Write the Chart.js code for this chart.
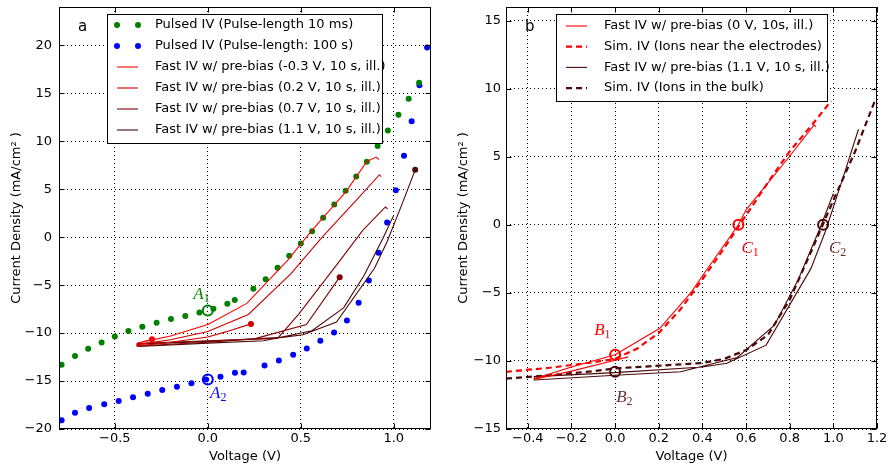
<!DOCTYPE html>
<html>
<head>
<meta charset="utf-8">
<script src="https://cdn.jsdelivr.net/npm/chart.js@4.4.1/dist/chart.umd.min.js"></script>
<style>
  html, body { margin: 0; padding: 0; background: #fff; }
  #wrap { position: relative; width: 889px; height: 466px; }
  canvas { position: absolute; top: 0; }
  #chartA { left: 0; }
  #chartB { left: 445px; }
</style>
</head>
<body>
<div id="wrap">
  <canvas id="chartA" width="445" height="466"></canvas>
  <canvas id="chartB" width="444" height="466"></canvas>
</div>
<script>
// ---- panel a data ----
const pulse10msV = [-0.786,-0.714,-0.643,-0.571,-0.500,-0.427,-0.352,-0.275,-0.198,-0.121,-0.045,0.030,0.105,0.145,0.245,0.311,0.375,0.438,0.500,0.561,0.620,0.680,0.741,0.798,0.855,0.913,0.968,1.025,1.080,1.136];
const pulse10msJ = [-13.3,-12.4,-11.63,-10.97,-10.35,-9.79,-9.34,-8.92,-8.54,-8.23,-7.85,-7.47,-6.94,-6.56,-5.38,-4.38,-3.19,-1.94,-0.66,0.62,2.02,3.41,4.83,6.33,7.86,9.50,11.13,12.77,14.43,16.10];
const pulse100sV = [-0.786,-0.714,-0.638,-0.557,-0.479,-0.402,-0.323,-0.245,-0.166,-0.088,-0.009,0.068,0.146,0.193,0.305,0.382,0.459,0.532,0.605,0.679,0.748,0.811,0.866,0.918,0.964,1.011,1.055,1.096,1.138,1.179];
const pulse100sJ = [-19.1,-18.3,-17.8,-17.43,-17.08,-16.70,-16.32,-15.94,-15.59,-15.24,-14.83,-14.55,-14.13,-14.1,-13.37,-12.85,-12.26,-11.6,-10.8,-9.93,-8.68,-6.84,-4.51,-1.63,1.53,4.90,8.49,12.10,15.83,19.79];

// fast IV sweeps: start at pre-bias, down to -0.4 V, back up
const fastM03V = [-0.30,-0.38,-0.20,0.00,0.21,0.43,0.56,0.745,0.855,0.905,0.92];
const fastM03J = [-10.65,-11.05,-10.3,-9.1,-6.9,-2.4,0.7,4.8,7.9,8.35,8.1];
const fast02V = [0.232,0.10,0.00,-0.20,-0.38,-0.38,-0.20,0.00,0.218,0.446,0.615,0.80,0.923,0.932];
const fast02J = [-9.04,-9.85,-10.4,-10.95,-11.35,-11.2,-10.7,-9.83,-8.06,-3.82,0.0,3.9,6.51,6.3];
const fast07V = [0.709,0.53,0.25,0.00,-0.38,-0.38,0.00,0.375,0.49,0.70,0.833,0.955,0.967];
const fast07J = [-4.17,-9.1,-10.6,-10.95,-11.35,-11.1,-10.8,-10.55,-8.0,-2.7,0.7,3.15,2.95];
const fast11V = [1.115,1.04,0.965,0.897,0.692,0.512,0.40,0.00,-0.37,-0.37,0.00,0.30,0.56,0.73,0.84,0.94,1.00];
const fast11J = [7.02,3.24,-0.42,-3.22,-8.84,-10.17,-10.45,-10.86,-11.15,-11.4,-11.05,-10.8,-9.75,-7.37,-4.0,-0.2,2.3];

const markA_V = [0.0, 0.0];
const markA_J = [-7.65, -14.85];
const labA_text = ['A', 'A'];
const labA_sub = ['1', '2'];
const labA_V = [-0.078, 0.012];
const labA_J = [-6.4, -16.8];

const xTicksA = [-0.5, 0.0, 0.5, 1.0];
const yTicksA = [-20, -15, -10, -5, 0, 5, 10, 15, 20];

// ---- panel b data ----
const fast0V = [0.06,0.00,-0.20,-0.37,-0.37,-0.20,0.00,0.205,0.35,0.418,0.565,0.60,0.798,0.912,0.92];
const fast0J = [-9.7,-9.95,-10.75,-11.35,-11.3,-10.45,-9.55,-7.6,-4.93,-3.34,0.0,1.1,5.0,7.34,7.2];
const simNearV = [-0.5,-0.3,-0.1,0.0,0.1,0.2,0.3,0.4,0.5,0.6,0.7,0.8,0.9,0.99];
const simNearJ = [-10.8,-10.5,-10.1,-9.85,-9.1,-7.95,-6.2,-4.0,-1.7,0.7,3.1,5.4,7.3,9.1];
const simBulkV = [-0.5,-0.3,-0.1,0.0,0.2,0.4,0.5,0.6,0.7,0.8,0.9,1.0,1.1,1.19];
const simBulkJ = [-11.3,-11.05,-10.75,-10.55,-10.35,-10.15,-9.85,-9.2,-8.1,-5.5,-1.9,1.8,5.4,9.1];

const markB_V = [0.0, 0.565, 0.0, 0.953];
const markB_J = [-9.55, 0.0, -10.8, 0.0];
const labB_text = ['B', 'C', 'B', 'C'];
const labB_sub = ['1', '1', '2', '2'];
const labB_V = [-0.096, 0.579, 0.005, 0.98];
const labB_J = [-8.1, -2.05, -13.0, -2.05];

const xTicksB = [-0.4, -0.2, 0.0, 0.2, 0.4, 0.6, 0.8, 1.0, 1.2];
const yTicksB = [-15, -10, -5, 0, 5, 10, 15];

// ---- helpers ----
const pts = (xs, ys) => xs.map((x, i) => ({x: x, y: ys[i]}));
const minus = v => (v < 0 ? '\u2212' : '') + Math.abs(v);
const minus1 = v => (v < 0 ? '\u2212' : '') + Math.abs(v).toFixed(1);

Chart.defaults.font.family = '"DejaVu Sans", sans-serif';
Chart.defaults.font.size = 13;
Chart.defaults.color = '#000';

const RED = '#ff0000', RED2 = '#cc0000', RED3 = '#800000', BROWN = '#4a0808';
const GREEN = '#008000', BLUE = '#0000ff';

// box, inward ticks, panel letter
const frameTicks = {
  id: 'frameTicks',
  afterDraw(chart, args, o) {
    const {ctx, chartArea: a, scales} = chart;
    ctx.save();
    ctx.strokeStyle = '#000';
    ctx.lineWidth = 1;
    ctx.setLineDash([]);
    const L = Math.round(a.left) + 0.5, R = Math.round(a.right) - 0.5;
    const T = Math.round(a.top) + 0.5, B = Math.round(a.bottom) - 0.5;
    ctx.strokeRect(L, T, R - L, B - T);
    ctx.beginPath();
    scales.x.ticks.forEach(t => {
      const px = Math.round(scales.x.getPixelForValue(t.value)) + 0.5;
      ctx.moveTo(px, B); ctx.lineTo(px, B - 5);
      ctx.moveTo(px, T); ctx.lineTo(px, T + 5);
    });
    scales.y.ticks.forEach(t => {
      const py = Math.round(scales.y.getPixelForValue(t.value)) + 0.5;
      ctx.moveTo(L, py); ctx.lineTo(L + 5, py);
      ctx.moveTo(R, py); ctx.lineTo(R - 5, py);
    });
    ctx.stroke();
    ctx.fillStyle = '#000';
    ctx.font = '15px "DejaVu Sans"';
    ctx.textBaseline = 'alphabetic';
    ctx.fillText(o.letter, a.left + 19, a.top + 24);
    ctx.restore();
  }
};

// legend box inside the plot
const boxLegend = {
  id: 'boxLegend',
  afterDraw(chart, args, o) {
    const ctx = chart.ctx;
    const items = chart.data.datasets.filter(d => d.label);
    ctx.save();
    ctx.fillStyle = '#fff';
    ctx.fillRect(o.x, o.y, o.w, o.h);
    ctx.strokeStyle = '#000';
    ctx.lineWidth = 1;
    ctx.strokeRect(o.x + 0.5, o.y + 0.5, o.w, o.h);
    ctx.font = '13px "DejaVu Sans"';
    ctx.textBaseline = 'middle';
    items.forEach((d, i) => {
      const cy = o.y + o.first + i * o.row;
      if (d.showLine) {
        ctx.strokeStyle = d.borderColor;
        ctx.lineWidth = d.borderWidth;
        ctx.setLineDash(d.borderDash || []);
        ctx.beginPath();
        ctx.moveTo(o.x1, cy); ctx.lineTo(o.x2, cy);
        ctx.stroke();
        ctx.setLineDash([]);
      } else {
        ctx.fillStyle = d.backgroundColor;
        [o.x1, o.x2].forEach(px => {
          ctx.beginPath(); ctx.arc(px, cy, 3, 0, Math.PI * 2); ctx.fill();
        });
      }
      ctx.fillStyle = '#000';
      ctx.fillText(d.label, o.tx, cy);
    });
    ctx.restore();
  }
};

// italic math labels with subscripts
const mathLabels = {
  id: 'mathLabels',
  afterDatasetsDraw(chart, args, o) {
    const {ctx, scales: {x, y}} = chart;
    ctx.save();
    ctx.textBaseline = 'alphabetic';
    o.text.forEach((t, i) => {
      const px = x.getPixelForValue(o.xs[i]), py = y.getPixelForValue(o.ys[i]);
      ctx.fillStyle = o.colors[i];
      ctx.font = 'italic 17px "Liberation Serif"';
      ctx.fillText(t, px, py);
      const w = ctx.measureText(t).width;
      ctx.font = '12px "Liberation Serif"';
      ctx.fillText(o.sub[i], px + w, py + 3);
    });
    ctx.restore();
  }
};

function dots(label, xs, ys, color) {
  return { label: label, data: pts(xs, ys), backgroundColor: color, borderWidth: 0,
           pointRadius: 3, showLine: false, order: 2 };
}
function sweep(label, xs, ys, color, startDot) {
  return { label: label, data: pts(xs, ys), borderColor: color, backgroundColor: color,
           borderWidth: 1.1, showLine: true, tension: 0, order: 1,
           pointRadius: c => (startDot && c.dataIndex === 0 ? 3 : 0), pointBorderWidth: 0 };
}
function sim(label, xs, ys, color) {
  return { label: label, data: pts(xs, ys), borderColor: color, borderWidth: 2.2,
           borderDash: [6, 4], showLine: true, tension: 0, pointRadius: 0, order: 1 };
}
function ring(x, y, color) {
  return { data: [{x: x, y: y}], borderColor: color, backgroundColor: 'rgba(0,0,0,0)',
           pointRadius: 5, borderWidth: 2, showLine: false, order: 0 };
}

function axes(xmin, xmax, ymin, ymax, xt, yt, yWidth, yTitlePad, yTickPad) {
  return {
    x: {
      type: 'linear', min: xmin, max: xmax,
      afterBuildTicks: s => { s.ticks = xt.map(v => ({value: v})); },
      afterFit: s => { s.height = 37; s.paddingLeft = 0; s.paddingRight = 0; },
      ticks: { padding: 2, maxRotation: 0, autoSkip: false, callback: v => minus1(v) },
      grid: { color: '#000', lineWidth: 1, drawTicks: false },
      border: { display: false, dash: [1, 3] },
      title: { display: true, text: 'Voltage (V)', padding: {top: 0, bottom: 2} }
    },
    y: {
      type: 'linear', min: ymin, max: ymax,
      afterBuildTicks: s => { s.ticks = yt.map(v => ({value: v})); },
      afterFit: s => { s.width = yWidth; s.paddingTop = 0; s.paddingBottom = 0; },
      ticks: { padding: yTickPad, autoSkip: false, callback: v => minus(v) },
      grid: { color: '#000', lineWidth: 1, drawTicks: false },
      border: { display: false, dash: [1, 3] },
      title: { display: true, text: 'Current Density (mA/cm\u00b2 )', padding: {top: yTitlePad, bottom: 0} }
    }
  };
}

new Chart(document.getElementById('chartA'), {
  type: 'scatter',
  data: {
    datasets: [
      dots('Pulsed IV (Pulse-length 10 ms)', pulse10msV, pulse10msJ, GREEN),
      dots('Pulsed IV (Pulse-length: 100 s)', pulse100sV, pulse100sJ, BLUE),
      sweep('Fast IV w/ pre-bias (-0.3 V, 10 s, ill.)', fastM03V, fastM03J, RED, true),
      sweep('Fast IV w/ pre-bias (0.2 V, 10 s, ill.)', fast02V, fast02J, RED2, true),
      sweep('Fast IV w/ pre-bias (0.7 V, 10 s, ill.)', fast07V, fast07J, RED3, true),
      sweep('Fast IV w/ pre-bias (1.1 V, 10 s, ill.)', fast11V, fast11J, BROWN, true),
      ring(markA_V[0], markA_J[0], GREEN),
      ring(markA_V[1], markA_J[1], BLUE)
    ]
  },
  options: {
    responsive: false,
    animation: false,
    events: [],
    layout: { padding: { left: 0, right: 14, top: 6, bottom: 0 } },
    scales: axes(-0.8, 1.2, -20, 24, xTicksA, yTicksA, 59, 9, 7),
    plugins: {
      legend: { display: false },
      tooltip: { enabled: false },
      frameTicks: { letter: 'a' },
      boxLegend: { x: 107, y: 14, w: 275, h: 129, first: 11, row: 21, x1: 117, x2: 138, tx: 155 },
      mathLabels: { text: labA_text, sub: labA_sub, xs: labA_V, ys: labA_J, colors: [GREEN, BLUE] }
    }
  },
  plugins: [frameTicks, boxLegend, mathLabels]
});

new Chart(document.getElementById('chartB'), {
  type: 'scatter',
  data: {
    datasets: [
      sweep('Fast IV w/ pre-bias (0 V, 10s, ill.)', fast0V, fast0J, RED, false),
      sim('Sim. IV (Ions near the electrodes)', simNearV, simNearJ, RED),
      sweep('Fast IV w/ pre-bias (1.1 V, 10 s, ill.)', fast11V, fast11J, BROWN, false),
      sim('Sim. IV (Ions in the bulk)', simBulkV, simBulkJ, BROWN),
      ring(markB_V[0], markB_J[0], RED),
      ring(markB_V[1], markB_J[1], RED),
      ring(markB_V[2], markB_J[2], BROWN),
      ring(markB_V[3], markB_J[3], BROWN)
    ]
  },
  options: {
    responsive: false,
    animation: false,
    events: [],
    layout: { padding: { left: 0, right: 12, top: 6, bottom: 0 } },
    scales: axes(-0.5, 1.2, -15, 16, xTicksB, yTicksB, 61, 11, 5),
    plugins: {
      legend: { display: false },
      tooltip: { enabled: false },
      frameTicks: { letter: 'b' },
      boxLegend: { x: 111, y: 14, w: 271, h: 87, first: 12, row: 20.7, x1: 121, x2: 142, tx: 159 },
      mathLabels: { text: labB_text, sub: labB_sub, xs: labB_V, ys: labB_J, colors: [RED, RED, '#6b3030', '#6b3030'] }
    }
  },
  plugins: [frameTicks, boxLegend, mathLabels]
});
</script>
</body>
</html>
